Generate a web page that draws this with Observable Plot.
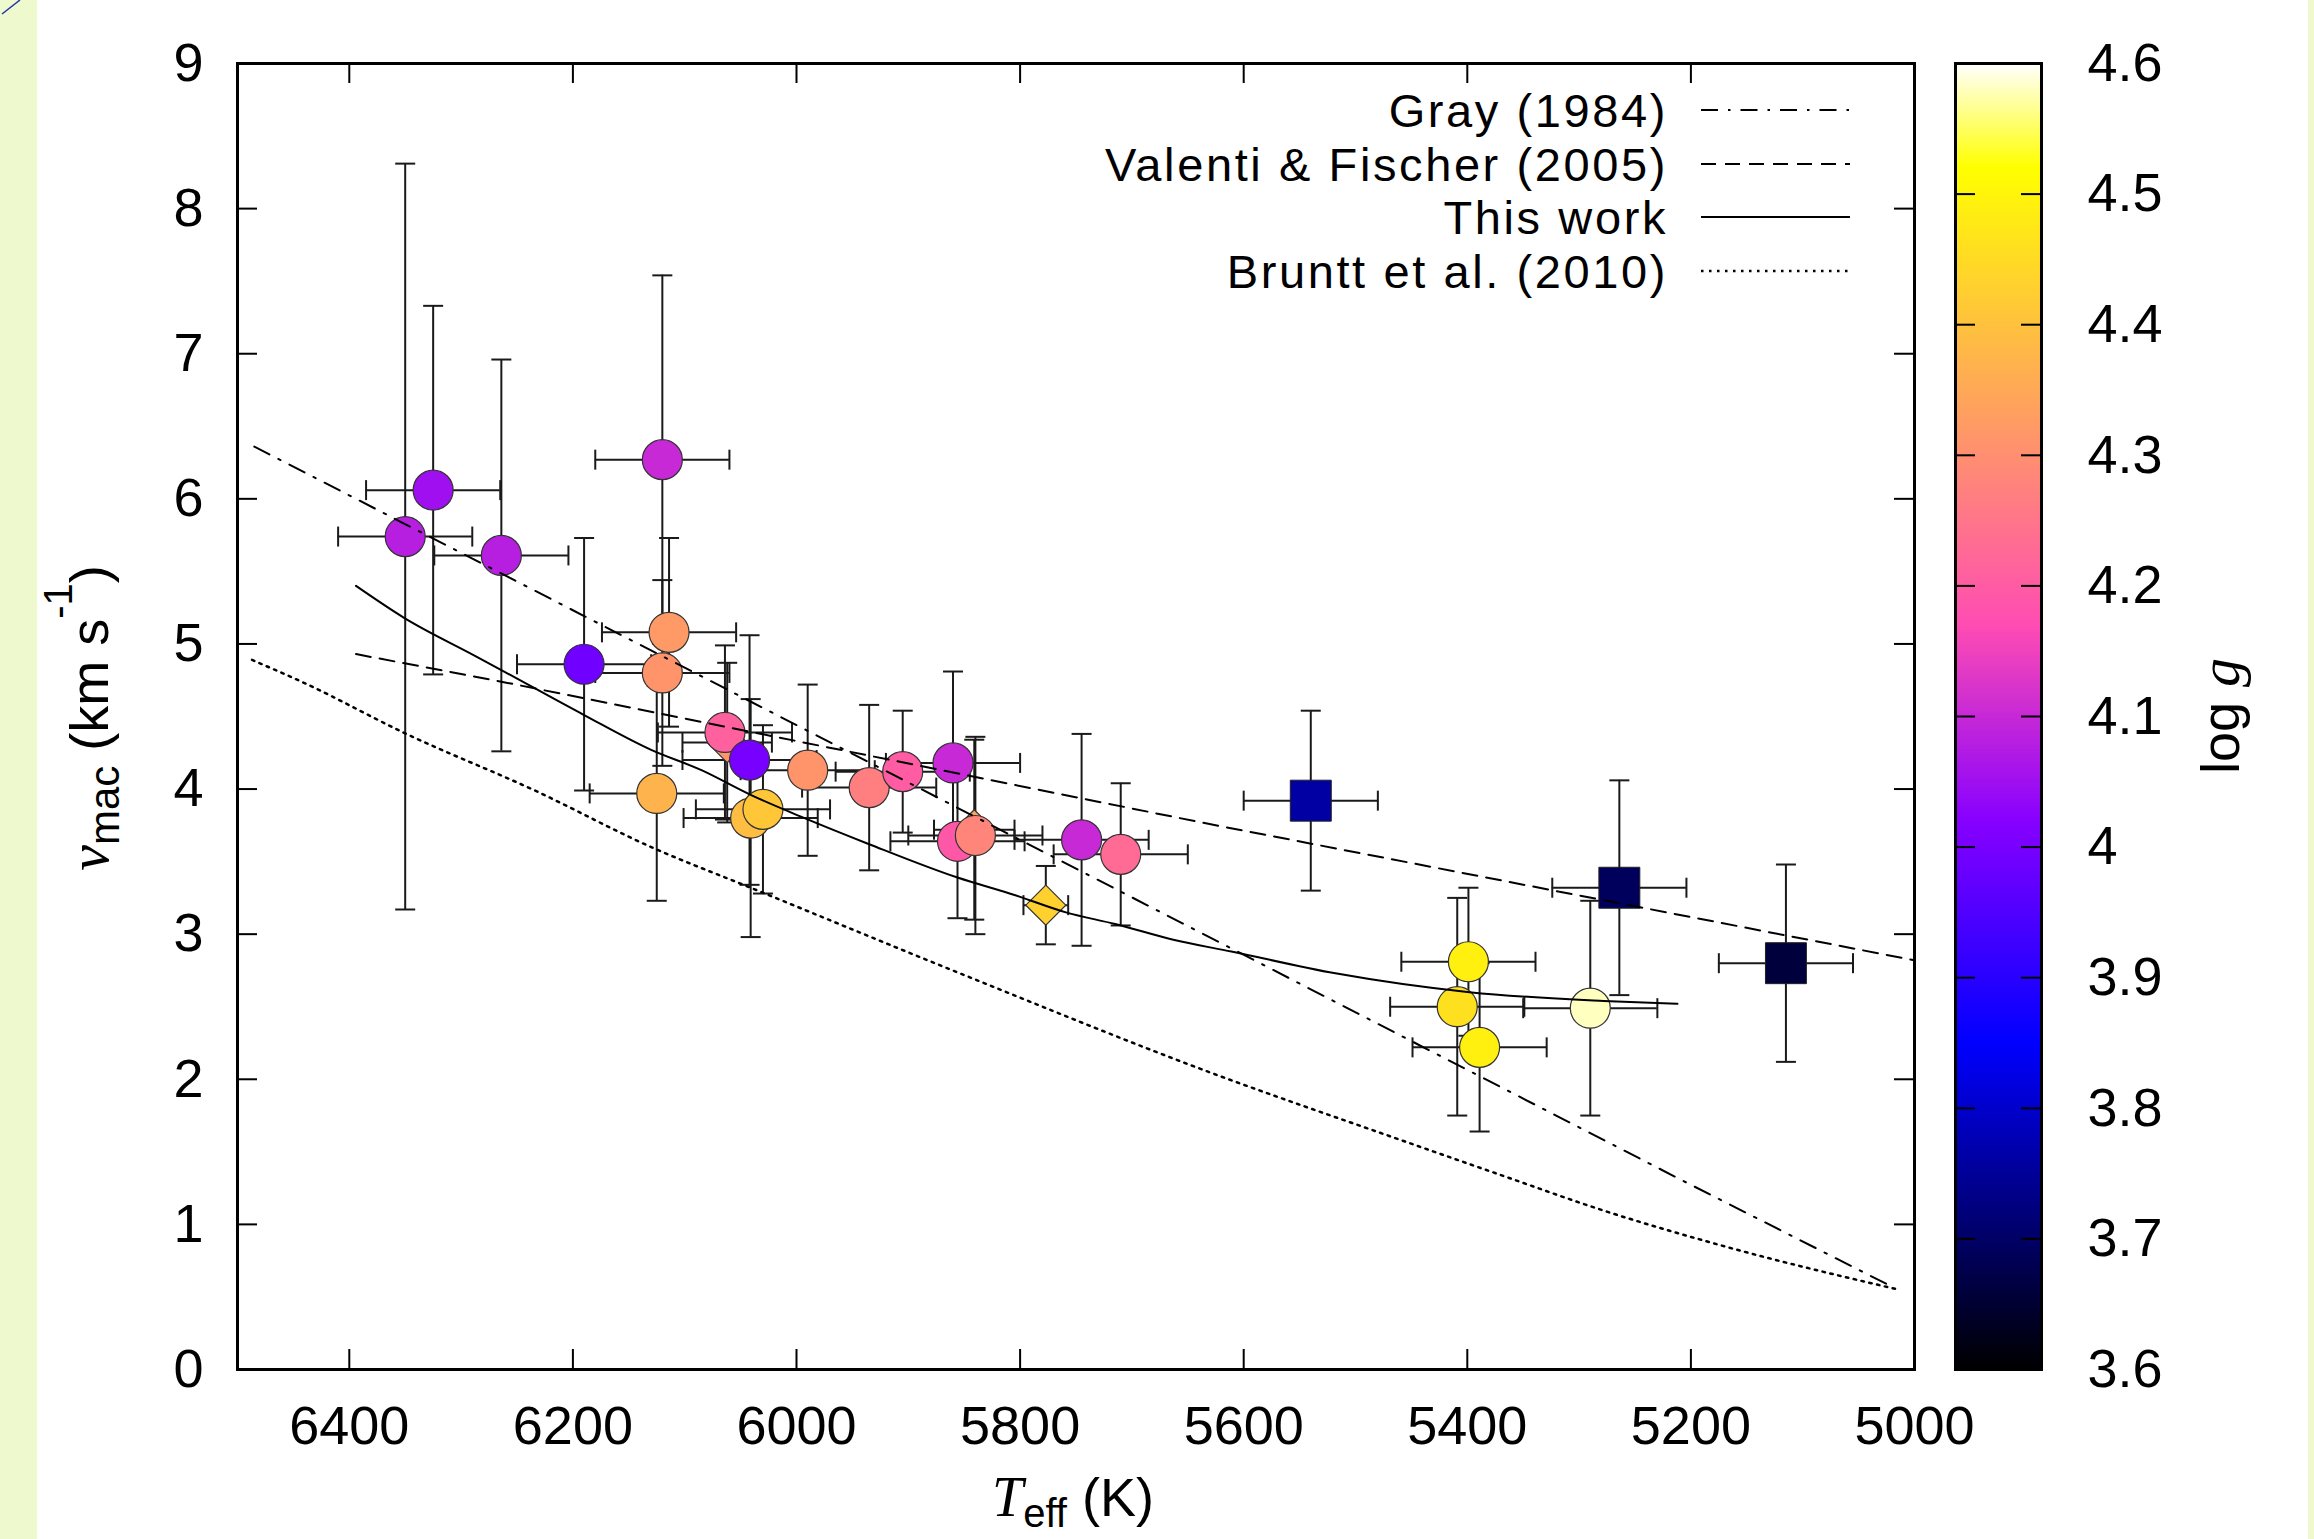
<!DOCTYPE html>
<html><head><meta charset="utf-8">
<script src="https://cdn.jsdelivr.net/npm/d3@7"></script>
<script src="https://cdn.jsdelivr.net/npm/@observablehq/plot@0.6"></script>
<style>
html,body{margin:0;padding:0;overflow:hidden;background:#eefacd;}
#page{position:relative;width:2314px;height:1539px;}
#white{position:absolute;left:37px;top:0;width:2271px;height:1539px;background:#fff;}
#main,#cbar{position:absolute;top:0;}
#main{left:0;} #cbar{left:1955px;}
#corner{position:absolute;left:0;top:0;}
</style></head><body>
<div id="page"><div id="white"></div>
<svg id="corner" width="30" height="20"><line x1="2" y1="14" x2="20" y2="0" stroke="#2233aa" stroke-width="1.5"/></svg>
<div id="main"></div><div id="cbar"></div></div>
<script>
// ---------- data: circles (this sample) ----------
const cTeff  = [6350, 6325, 6264, 6190, 6120, 6114, 6120, 6125, 6064, 6042, 6041, 6030, 5990, 5935, 5905, 5860, 5856, 5840, 5745, 5710, 5409, 5399, 5389, 5290];
const cVmac  = [5.74, 6.06, 5.61, 4.86, 6.27, 5.08, 4.80, 3.97, 4.39, 4.20, 3.80, 3.86, 4.13, 4.01, 4.12, 4.18, 3.64, 3.68, 3.65, 3.55, 2.50, 2.81, 2.22, 2.49];
const cLogg  = [4.08, 4.05, 4.08, 3.99, 4.10, 4.32, 4.31, 4.37, 4.21, 4.00, 4.39, 4.41, 4.31, 4.27, 4.20, 4.10, 4.19, 4.28, 4.10, 4.23, 4.46, 4.49, 4.49, 4.58];
const cTeErr = [60, 60, 60, 60, 60, 60, 60, 60, 60, 60, 60, 60, 60, 60, 60, 60, 60, 60, 60, 60, 60, 60, 60, 60];
const cVErr  = [2.57, 1.27, 1.35, 0.87, 1.27, 0.65, 0.64, 0.74, 0.60, 0.86, 0.82, 0.58, 0.59, 0.57, 0.42, 0.63, 0.53, 0.68, 0.73, 0.49, 0.75, 0.51, 0.58, 0.74];
// diamonds
const dTeff  = [6062, 5841, 5777];
const dVmac  = [4.32, 3.72, 3.20];
const dLogg  = [4.31, 4.34, 4.43];
const dTeErr = [40, 36, 20];
const dVErr  = [0.55, 0.62, 0.27];
// squares
const sTeff  = [5540, 5264, 5115];
const sVmac  = [3.92, 3.32, 2.80];
const sLogg  = [3.76, 3.69, 3.66];
const sTeErr = [60, 60, 60];
const sVErr  = [0.62, 0.74, 0.68];

// ---------- relations ----------
const grayT = [6485, 5598, 5207, 5020];
const grayV = [6.36, 2.85, 1.30, 0.57];
const vfT = [6394, 6264, 5638, 5000];
const vfV = [4.93, 4.74, 3.77, 2.82];
const thisT = [6394, 6351, 6288, 6264, 6190, 6130, 6085, 6041, 5996, 5935, 5856, 5805, 5759, 5715, 5662, 5611, 5518, 5398, 5278, 5212];
const thisV = [5.40, 5.18, 4.92, 4.82, 4.51, 4.27, 4.13, 3.96, 3.81, 3.62, 3.39, 3.27, 3.15, 3.07, 2.96, 2.88, 2.73, 2.60, 2.54, 2.52];
const brT = [6487, 6440, 6349, 6234, 6130, 6041, 5841, 5638, 5459, 5370, 5280, 5161, 5014];
const brV = [4.89, 4.73, 4.38, 3.99, 3.60, 3.32, 2.69, 2.07, 1.58, 1.34, 1.10, 0.83, 0.55];

// ---------- ticks / labels ----------
const xTicks = [6400, 6200, 6000, 5800, 5600, 5400, 5200, 5000];
const yTicks = [0, 1, 2, 3, 4, 5, 6, 7, 8, 9];
const cbTicks = [3.6, 3.7, 3.8, 3.9, 4.0, 4.1, 4.2, 4.3, 4.4, 4.5, 4.6];
const legendNames = ["Gray (1984)", "Valenti & Fischer (2005)", "This work", "Bruntt et al. (2010)"];

// gnuplot rgbformulae 30,31,32
function clamp(v){ return Math.max(0, Math.min(1, v)); }
function gnuPal(t){
  const r = clamp(t/0.32 - 0.78125);
  const g = clamp(2*t - 0.84);
  let b;
  if (t < 0.25) b = 4*t; else if (t < 0.42) b = 1; else if (t < 0.92) b = -2*t + 1.84; else b = t/0.08 - 11.5;
  b = clamp(b);
  return `rgb(${Math.round(r*255)},${Math.round(g*255)},${Math.round(b*255)})`;
}
const colorOpts = {type: "linear", domain: [3.6, 4.6], interpolate: gnuPal};

const mk = (T, V, G, TE, VE) => T.map((t, i) => ({teff: t, v: V[i], logg: G[i], te: TE[i], ve: VE[i]}));
const circles = mk(cTeff, cVmac, cLogg, cTeErr, cVErr);
const diamonds = mk(dTeff, dVmac, dLogg, dTeErr, dVErr);
const squares = mk(sTeff, sVmac, sLogg, sTeErr, sVErr);
const allPts = [...circles, ...diamonds, ...squares];
const pairs = (T, V) => T.map((t, i) => ({t, v: V[i]}));

const capH = {draw(ctx, size){ const h = Math.sqrt(size/Math.PI); ctx.moveTo(-h, 0); ctx.lineTo(h, 0); }};
const capV = {draw(ctx, size){ const h = Math.sqrt(size/Math.PI); ctx.moveTo(0, -h); ctx.lineTo(0, h); }};

const W = 1950, H = 1539, mL = 237, mR = 36, mT = 63, mB = 170;
const innerW = W - mL - mR, innerH = H - mT - mB;
const FONT = "'Liberation Sans', Arial, Helvetica, sans-serif";
const SERIF = "'Liberation Serif', 'Times New Roman', serif";
const ebStroke = "#1a1a1a";

const main = Plot.plot({
  width: W, height: H,
  marginLeft: mL, marginRight: mR, marginTop: mT, marginBottom: mB,
  style: {background: "transparent", fontFamily: FONT, fontSize: "54px", color: "black", overflow: "visible"},
  x: {domain: [6500, 5000], ticks: xTicks, tickSize: 0, tickPadding: 36, tickFormat: d => String(d), label: null},
  y: {domain: [0, 9], ticks: yTicks, tickSize: 0, tickPadding: 34, tickFormat: d => String(d), label: null},
  color: colorOpts,
  marks: [
    // inward ticks on all four sides
    Plot.tickX(xTicks, {x: d => d, insetTop: innerH - 20, stroke: "black", strokeWidth: 2}),
    Plot.tickX(xTicks, {x: d => d, insetBottom: innerH - 20, stroke: "black", strokeWidth: 2}),
    Plot.tickY(yTicks, {y: d => d, insetRight: innerW - 20, stroke: "black", strokeWidth: 2}),
    Plot.tickY(yTicks, {y: d => d, insetLeft: innerW - 20, stroke: "black", strokeWidth: 2}),
    // error bars
    Plot.ruleX(allPts, {x: "teff", y1: d => d.v - d.ve, y2: d => d.v + d.ve, stroke: ebStroke, strokeWidth: 2}),
    Plot.ruleY(allPts, {y: "v", x1: d => d.teff - d.te, x2: d => d.teff + d.te, stroke: ebStroke, strokeWidth: 2}),
    Plot.dot(allPts, {x: "teff", y: d => d.v + d.ve, symbol: capH, r: 10, fill: "none", stroke: ebStroke, strokeWidth: 2}),
    Plot.dot(allPts, {x: "teff", y: d => d.v - d.ve, symbol: capH, r: 10, fill: "none", stroke: ebStroke, strokeWidth: 2}),
    Plot.dot(allPts, {x: d => d.teff - d.te, y: "v", symbol: capV, r: 10, fill: "none", stroke: ebStroke, strokeWidth: 2}),
    Plot.dot(allPts, {x: d => d.teff + d.te, y: "v", symbol: capV, r: 10, fill: "none", stroke: ebStroke, strokeWidth: 2}),
    // symbols
    Plot.dot(diamonds, {x: "teff", y: "v", fill: "logg", symbol: "diamond2", r: 18, stroke: "#333", strokeWidth: 1.2}),
    Plot.dot(circles, {x: "teff", y: "v", fill: "logg", symbol: "circle", r: 20, stroke: "#333", strokeWidth: 1.2}),
    Plot.dot(squares, {x: "teff", y: "v", fill: "logg", symbol: "square", r: 23.1, stroke: "#222", strokeWidth: 1}),
    // relations
    Plot.line(pairs(grayT, grayV), {x: "t", y: "v", stroke: "black", strokeWidth: 2, strokeDasharray: "17,10,2.5,10"}),
    Plot.line(pairs(vfT, vfV), {x: "t", y: "v", stroke: "black", strokeWidth: 2, strokeDasharray: "15,9"}),
    Plot.line(pairs(thisT, thisV), {x: "t", y: "v", stroke: "black", strokeWidth: 2, curve: "monotone-x"}),
    Plot.line(pairs(brT, brV), {x: "t", y: "v", stroke: "black", strokeWidth: 2.5, strokeDasharray: "2.5,5.5", curve: "monotone-x"}),
    Plot.frame({stroke: "black", strokeWidth: 3})
  ]
});
document.getElementById("main").appendChild(main);

// ----- axis titles and legend (text overlays in the SVG) -----
const sm = d3.select(main);
const xl = sm.append("text").attr("x", 1073).attr("y", 1516).attr("text-anchor", "middle")
  .attr("font-family", FONT).attr("font-size", 54).attr("fill", "black");
xl.append("tspan").attr("font-family", SERIF).attr("font-style", "italic").attr("font-size", 56).text("T");
xl.append("tspan").attr("font-size", 40).attr("dy", 11).text("eff");
xl.append("tspan").attr("dy", -11).text(" (K)");

const yl = sm.append("text").attr("transform", "translate(108,718) rotate(-90)").attr("text-anchor", "middle")
  .attr("font-family", FONT).attr("font-size", 54).attr("fill", "black");
yl.append("tspan").attr("font-family", SERIF).attr("font-style", "italic").attr("font-size", 58).text("\u03BD");
yl.append("tspan").attr("font-size", 42).attr("dy", 11).text("mac");
yl.append("tspan").attr("dy", -11).text(" (km s");
yl.append("tspan").attr("font-size", 40).attr("dy", -36).text("-1");
yl.append("tspan").attr("dy", 36).text(")");

const legDash = ["17,10,2.5,10", "15,9", null, "2.5,5.5"];
const legY = [110, 164, 217, 271];
const lg = sm.append("g");
legendNames.forEach((name, i) => {
  lg.append("text").attr("x", 1668).attr("y", legY[i]).attr("dy", "0.36em").attr("text-anchor", "end")
    .attr("font-family", FONT).attr("font-size", 47).attr("letter-spacing", "2.6px").attr("fill", "black").text(name);
  const ln = lg.append("line").attr("x1", 1701).attr("x2", 1850).attr("y1", legY[i]).attr("y2", legY[i])
    .attr("stroke", "black").attr("stroke-width", i === 3 ? 2.5 : 2);
  if (legDash[i]) ln.attr("stroke-dasharray", legDash[i]);
});

// ---------- colour bar ----------
const CBW = 359, barW = 86;
const cbSteps = d3.range(3.6, 4.6, 0.0025);
const cbar = Plot.plot({
  width: CBW, height: H,
  marginLeft: 0, marginRight: CBW - barW, marginTop: mT, marginBottom: mB,
  style: {background: "transparent", fontFamily: FONT, fontSize: "54px", color: "black", overflow: "visible"},
  x: {domain: [0, 1], axis: null},
  y: {domain: [3.6, 4.6], axis: "right", ticks: cbTicks, tickSize: 0, tickPadding: 46, tickFormat: d => String(+d.toFixed(1)), label: null},
  color: colorOpts,
  marks: [
    Plot.rect(cbSteps, {x1: 0, x2: 1, y1: d => d, y2: d => Math.min(4.6, d + 0.005), fill: d => d + 0.00125, shapeRendering: "crispEdges"}),
    Plot.tickY(cbTicks, {y: d => d, insetRight: barW - 20, stroke: "black", strokeWidth: 2}),
    Plot.tickY(cbTicks, {y: d => d, insetLeft: barW - 20, stroke: "black", strokeWidth: 2}),
    Plot.frame({stroke: "black", strokeWidth: 3})
  ]
});
document.getElementById("cbar").appendChild(cbar);
const cl = d3.select(cbar).append("text").attr("transform", "translate(265,716) rotate(-90)")
  .attr("text-anchor", "middle").attr("dy", "0.35em").attr("font-family", FONT).attr("font-size", 54).attr("fill", "black");
cl.append("tspan").text("log ");
cl.append("tspan").attr("font-family", SERIF).attr("font-style", "italic").attr("font-size", 58).text("g");
</script>
</body></html>
